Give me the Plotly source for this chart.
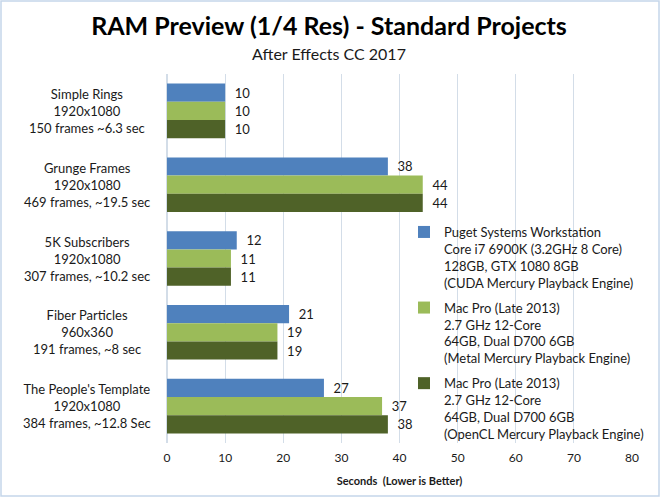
import plotly.graph_objects as go

categories = ["Simple Rings", "Grunge Frames", "5K Subscribers", "Fiber Particles", "The People's Template"]
category_details = [
    ["Simple Rings", "1920x1080", "150 frames ~6.3 sec"],
    ["Grunge Frames", "1920x1080", "469 frames, ~19.5 sec"],
    ["5K Subscribers", "1920x1080", "307 frames, ~10.2 sec"],
    ["Fiber Particles", "960x360", "191 frames, ~8 sec"],
    ["The People's Template", "1920x1080", "384 frames, ~12.8 Sec"],
]
series_names = [
    ["Puget Systems Workstation", "Core i7 6900K (3.2GHz 8 Core)", "128GB, GTX 1080 8GB", "(CUDA Mercury Playback Engine)"],
    ["Mac Pro (Late 2013)", "2.7 GHz 12-Core", "64GB, Dual D700 6GB", "(Metal Mercury Playback Engine)"],
    ["Mac Pro (Late 2013)", "2.7 GHz 12-Core", "64GB, Dual D700 6GB", "(OpenCL Mercury Playback Engine)"],
]
puget_cuda = [10, 38, 12, 21, 27]
macpro_metal = [10, 44, 11, 19, 37]
macpro_opencl = [10, 44, 11, 19, 38]
series_values = [puget_cuda, macpro_metal, macpro_opencl]
series_colors = ["#4F81BD", "#9BBB59", "#4F6228"]
x_ticks = [0, 10, 20, 30, 40, 50, 60, 70, 80]

FONT = "Lato"
TEXT = "#1a1a1a"
W, H = 660, 497
L, R, T, B = 167, 28, 74, 54
PW, PH = W - L - R, H - T - B

fig = go.Figure()
for i, (name, vals, col) in enumerate(zip(series_names, series_values, series_colors)):
    fig.add_trace(go.Bar(
        y=categories, x=vals, orientation="h",
        name="<br>".join(name), legendgroup=f"g{i}",
        marker=dict(color=col, line=dict(width=0)),
        text=vals, textposition="outside", texttemplate="  %{x}",
        textfont=dict(family=FONT, size=13, color=TEXT),
        cliponaxis=False, constraintext="none",
    ))

annotations = []
for cat, det in zip(categories, category_details):
    annotations.append(dict(
        x=-80 / PW, xref="paper", y=cat, yref="y",
        text="<br>".join(det), showarrow=False, align="center",
        xanchor="center", yanchor="middle",
        font=dict(family=FONT, size=13, color=TEXT),
    ))
annotations.append(dict(
    x=(329 - L) / PW, xref="paper", y=1 + (T - 54) / PH, yref="paper",
    text="After Effects CC 2017", showarrow=False,
    xanchor="center", yanchor="middle",
    font=dict(family=FONT, size=16, color=TEXT),
))

fig.update_layout(
    width=W, height=H,
    margin=dict(l=L, r=R, t=T, b=B, autoexpand=False),
    paper_bgcolor="white", plot_bgcolor="white",
    barmode="group", bargap=0.26, bargroupgap=0,
    title=dict(text="<b>RAM Preview (1/4 Res) - Standard Projects</b>",
               x=329 / W, xanchor="center", y=1 - 26 / H, yanchor="middle",
               font=dict(family=FONT, size=25, color="#000000")),
    xaxis=dict(range=[0, 80], tickvals=x_ticks, showgrid=True, gridcolor="#D3DDE8",
               gridwidth=1, zeroline=True, zerolinecolor="#D3DDE8", showline=False,
               ticks="", ticklabelstandoff=6, tickfont=dict(family=FONT, size=12, color=TEXT),
               title=dict(text="<b>Seconds  (Lower is Better)</b>",
                          font=dict(family=FONT, size=11, color=TEXT), standoff=13)),
    yaxis=dict(autorange="reversed", showticklabels=False, showgrid=False,
               zeroline=False, showline=False, ticks=""),
    legend=dict(x=(404 - L) / PW, y=(T + PH - 217) / PH, xanchor="left", yanchor="top",
                font=dict(family=FONT, size=13, color=TEXT), valign="top",
                traceorder="grouped", tracegroupgap=5, itemwidth=30,
                bgcolor="rgba(0,0,0,0)"),
    annotations=annotations,
    shapes=[dict(type="rect", xref="paper", yref="paper",
                 x0=-(L - 1) / PW, x1=1 + (R - 1) / PW,
                 y0=-(B - 1) / PH, y1=1 + (T - 1) / PH,
                 line=dict(color="#C5D6EA", width=1.5), fillcolor="rgba(0,0,0,0)")],
)

fig.write_html("out.html", config={"displayModeBar": False},
               post_script="document.body.style.margin='0';")
